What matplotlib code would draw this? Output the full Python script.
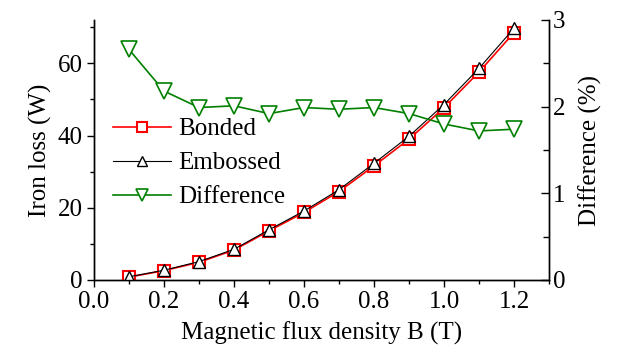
import matplotlib
matplotlib.use("Agg")
import matplotlib.pyplot as plt
from matplotlib.ticker import MultipleLocator

plt.rcParams['font.family'] = ['Liberation Serif', 'DejaVu Serif']

# data
B = [0.1, 0.2, 0.3, 0.4, 0.5, 0.6, 0.7, 0.8, 0.9, 1.0, 1.1, 1.2]
bonded = [0.8, 2.6, 4.9, 8.3, 13.6, 18.7, 24.5, 31.6, 39.0, 47.7, 57.6, 68.5]
embossed = [0.9, 2.7, 5.1, 8.5, 13.9, 19.1, 25.0, 32.3, 39.8, 48.6, 58.6, 69.7]
difference = [2.66, 2.18, 1.99, 2.01, 1.92, 1.99, 1.97, 1.99, 1.92, 1.80, 1.72, 1.74]

fig = plt.figure(figsize=(6.21, 3.58), dpi=100)
ax = fig.add_axes([94 / 621, 78 / 358, 455 / 621, 260 / 358])
ax2 = ax.twinx()

l1, = ax.plot(B, bonded, color='red', marker='s', markersize=8.5,
              markerfacecolor='white', markeredgecolor='red', markeredgewidth=1.5,
              linewidth=1.2, label='Bonded', zorder=3)
l2, = ax.plot(B, embossed, color='black', marker='^', markersize=9,
              markerfacecolor='white', markeredgecolor='black', markeredgewidth=1.0,
              linewidth=0.8, label='Embossed', zorder=4)
l3, = ax2.plot(B, difference, color='green', marker='v', markersize=11,
               markerfacecolor='white', markeredgecolor='green', markeredgewidth=1.2,
               linewidth=1.2, label='Difference')

ax.set_xlim(0, 1.3)
ax.set_ylim(0, 72)
ax2.set_ylim(0, 3)

ax.xaxis.set_major_locator(MultipleLocator(0.2))
ax.xaxis.set_minor_locator(MultipleLocator(0.1))
ax.yaxis.set_major_locator(MultipleLocator(20))
ax.yaxis.set_minor_locator(MultipleLocator(10))
ax2.yaxis.set_major_locator(MultipleLocator(1))
ax2.yaxis.set_minor_locator(MultipleLocator(0.5))

for a in (ax, ax2):
    a.spines['top'].set_visible(False)
    for s in a.spines.values():
        s.set_linewidth(1.0)

ax.tick_params(which='both', direction='out', labelsize=18, width=1.0, pad=3)
ax.tick_params(which='major', length=5)
ax.tick_params(which='minor', length=3)
ax2.tick_params(which='both', direction='in', labelsize=18, width=1.0, pad=3)
ax2.tick_params(which='major', length=6)
ax2.tick_params(which='minor', length=4)
ax.xaxis.set_major_formatter(plt.FormatStrFormatter('%.1f'))

ax.set_xlabel('Magnetic flux density B (T)', fontsize=18, labelpad=6)
ax.set_ylabel('Iron loss (W)', fontsize=18, labelpad=4)
ax2.set_ylabel('Difference (%)', fontsize=18, labelpad=9)

ax.legend(handles=[l1, l2, l3], loc='center left', bbox_to_anchor=(0.042, 0.45),
          frameon=False, fontsize=18, handlelength=2.3, handletextpad=0.3,
          labelspacing=0.46, borderaxespad=0, borderpad=0, markerscale=0.85)

fig.savefig('out.png', dpi=100)
